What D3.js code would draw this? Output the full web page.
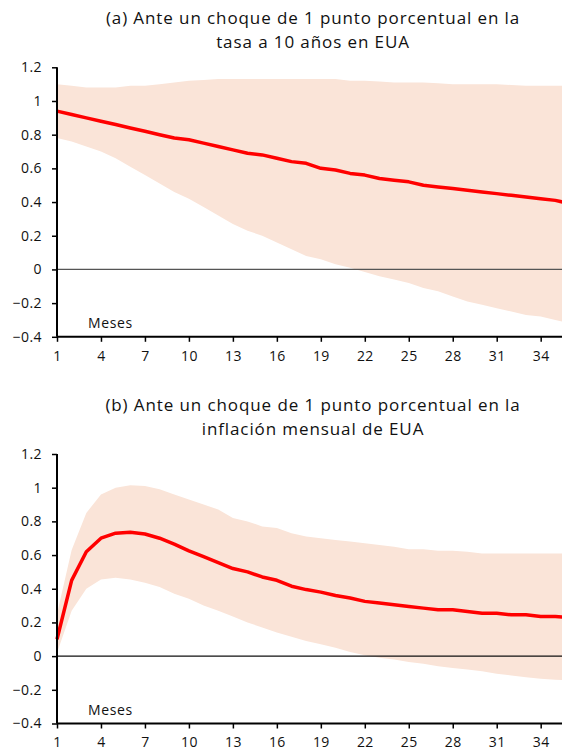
<!DOCTYPE html>
<html>
<head>
<meta charset="utf-8">
<script src="https://d3js.org/d3.v7.min.js"></script>
<style>
* { padding: 0; margin: 0; }
body { background: #fff; }
svg { display: block; font-family: 'Open Sans', sans-serif; }
</style>
</head>
<body>
<svg width="562" height="755"></svg>
<script>
// months 1..36
const months = d3.range(1, 37);
const xTicks = [1, 4, 7, 10, 13, 16, 19, 22, 25, 28, 31, 34];
const yTicks = [-0.4, -0.2, 0, 0.2, 0.4, 0.6, 0.8, 1, 1.2];

// (a) choque en la tasa a 10 anos
const rateMid = [0.94, 0.92, 0.90, 0.88, 0.86, 0.84, 0.82, 0.80, 0.78, 0.77, 0.75, 0.73,
  0.71, 0.69, 0.68, 0.66, 0.64, 0.63, 0.60, 0.59, 0.57, 0.56, 0.54, 0.53,
  0.52, 0.50, 0.49, 0.48, 0.47, 0.46, 0.45, 0.44, 0.43, 0.42, 0.41, 0.39];
const rateUp = [1.10, 1.09, 1.08, 1.08, 1.08, 1.09, 1.09, 1.10, 1.11, 1.12, 1.125, 1.13,
  1.13, 1.13, 1.13, 1.13, 1.13, 1.13, 1.13, 1.13, 1.12, 1.12, 1.115, 1.11,
  1.11, 1.11, 1.105, 1.10, 1.10, 1.10, 1.10, 1.095, 1.09, 1.09, 1.09, 1.09];
const rateLo = [0.78, 0.76, 0.73, 0.70, 0.66, 0.61, 0.56, 0.51, 0.46, 0.42, 0.37, 0.32,
  0.27, 0.23, 0.20, 0.16, 0.12, 0.08, 0.06, 0.03, 0.01, -0.015, -0.04, -0.06,
  -0.08, -0.11, -0.13, -0.16, -0.19, -0.21, -0.23, -0.25, -0.27, -0.28, -0.30, -0.32];

// (b) choque en la inflacion mensual
const inflMid = [0.10, 0.45, 0.62, 0.70, 0.73, 0.735, 0.725, 0.70, 0.665, 0.625, 0.59, 0.555,
  0.52, 0.50, 0.47, 0.45, 0.415, 0.395, 0.38, 0.36, 0.345, 0.325, 0.315, 0.305,
  0.295, 0.285, 0.275, 0.275, 0.265, 0.255, 0.255, 0.245, 0.245, 0.235, 0.235, 0.23];
const inflUp = [0.25, 0.63, 0.85, 0.96, 1.00, 1.015, 1.01, 0.99, 0.96, 0.93, 0.90, 0.87,
  0.82, 0.80, 0.77, 0.76, 0.73, 0.71, 0.70, 0.69, 0.68, 0.67, 0.66, 0.65,
  0.635, 0.635, 0.625, 0.625, 0.62, 0.61, 0.61, 0.61, 0.61, 0.61, 0.61, 0.61];
const inflLo = [0.02, 0.27, 0.40, 0.455, 0.465, 0.455, 0.435, 0.41, 0.37, 0.34, 0.30, 0.27,
  0.235, 0.20, 0.17, 0.14, 0.115, 0.09, 0.07, 0.05, 0.025, 0.005, -0.01, -0.02,
  -0.035, -0.045, -0.06, -0.07, -0.08, -0.09, -0.105, -0.115, -0.125, -0.135, -0.14, -0.145];

const svg = d3.select("svg");

function panel(top, titleLines, mid, up, lo, zeroColor) {
  // top = pixel y of 1.2
  const x = d3.scaleLinear().domain([1, 36]).range([57, 570]);
  const y = d3.scaleLinear().domain([-0.4, 1.2]).range([top + 269.5, top]);
  const g = svg.append("g");

  titleLines.forEach((t, i) => {
    g.append("text")
      .attr("x", 313).attr("y", top - 43 + i * 23.5)
      .attr("text-anchor", "middle")
      .attr("font-size", "17px")
      .attr("letter-spacing", "0.9px")
      .attr("fill", "#111")
      .text(t);
  });

  const rows = months.map((m, i) => ({m: m, mid: mid[i], up: up[i], lo: lo[i]}));

  g.append("path")
    .datum(rows)
    .attr("fill", "#fae4d8")
    .attr("d", d3.area().x(d => x(d.m)).y0(d => y(d.lo)).y1(d => y(d.up)));

  // zero line
  g.append("line")
    .attr("x1", x(1)).attr("x2", 562)
    .attr("y1", y(0)).attr("y2", y(0))
    .attr("stroke", zeroColor).attr("stroke-width", 1.2);

  g.append("path")
    .datum(rows)
    .attr("fill", "none")
    .attr("stroke", "#ff0000")
    .attr("stroke-width", 3.5)
    .attr("stroke-linejoin", "round")
    .attr("d", d3.line().x(d => x(d.m)).y(d => y(d.mid)));

  const ya = g.append("g")
    .attr("transform", "translate(" + x(1) + ",0)")
    .call(d3.axisLeft(y).tickValues(yTicks).tickSize(5).tickPadding(10)
      .tickFormat(d => d3.format("")(+d.toFixed(1))));
  const xa = g.append("g")
    .attr("transform", "translate(0," + y(-0.4) + ")")
    .call(d3.axisBottom(x).tickValues(xTicks).tickSize(5).tickPadding(9));

  [ya, xa].forEach(a => {
    a.select(".domain").attr("stroke", "#000").attr("stroke-width", 2);
    a.selectAll(".tick line").attr("stroke", "#000").attr("stroke-width", 1.5);
    a.selectAll("text").attr("font-size", "14px").attr("fill", "#111")
      .attr("letter-spacing", "0.4px")
      .attr("font-family", "'Open Sans', sans-serif");
  });
  xa.select(".domain").attr("d", "M" + x(1) + ",0H562");
  ya.select(".domain").attr("d", "M0," + y(1.2) + "V" + y(-0.4));

  g.append("text")
    .attr("x", 88).attr("y", y(-0.4) - 9)
    .attr("font-size", "14px").attr("letter-spacing", "0.6px").attr("fill", "#111")
    .text("Meses");
}

panel(67.3, ["(a) Ante un choque de 1 punto porcentual en la", "tasa a 10 años en EUA"],
  rateMid, rateUp, rateLo, "#555");
panel(454, ["(b) Ante un choque de 1 punto porcentual en la", "inflación mensual de EUA"],
  inflMid, inflUp, inflLo, "#111");
</script>
</body>
</html>
